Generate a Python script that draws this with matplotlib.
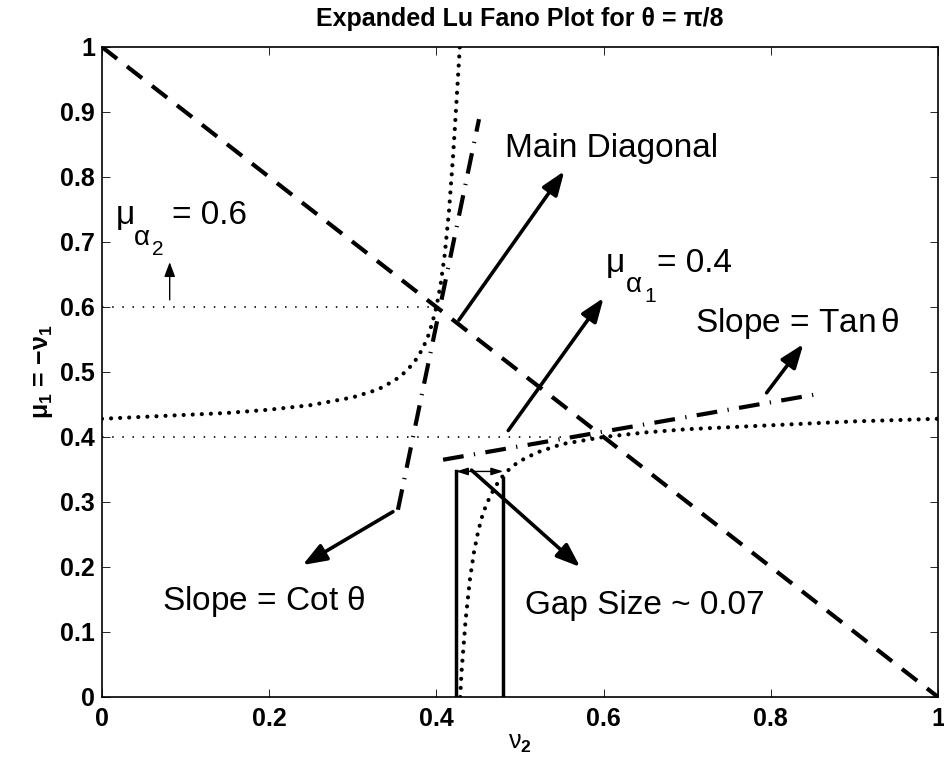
import matplotlib
matplotlib.use('Agg')
import matplotlib.pyplot as plt

plt.rcParams['font.family'] = ['Liberation Sans', 'DejaVu Sans']
plt.rcParams['mathtext.fontset'] = 'custom'
plt.rcParams['mathtext.rm'] = 'Liberation Sans'
plt.rcParams['mathtext.it'] = 'Liberation Sans:italic'
plt.rcParams['mathtext.bf'] = 'Liberation Sans:bold'
plt.rcParams['mathtext.default'] = 'regular'

# dotted curve, two branches (nu2, mu1)
left_x = [0, 0.05, 0.1, 0.15, 0.2, 0.25, 0.3, 0.33, 0.35, 0.36, 0.365, 0.37, 0.375,
          0.38, 0.385, 0.39, 0.395, 0.4, 0.405, 0.41, 0.415, 0.42, 0.422, 0.425, 0.427, 0.428]
left_y = [0.428, 0.431, 0.434, 0.437, 0.442, 0.449, 0.461, 0.473, 0.487, 0.497, 0.503, 0.510,
          0.518, 0.528, 0.540, 0.555, 0.575, 0.600, 0.634, 0.681, 0.746, 0.833, 0.873, 0.936,
          0.978, 1.0]
right_x = [0.4285, 0.43, 0.435, 0.44, 0.445, 0.45, 0.455, 0.46, 0.47, 0.48, 0.49, 0.5,
           0.52, 0.55, 0.6, 0.65, 0.7, 0.8, 0.9, 1.0]
right_y = [0.0, 0.037, 0.119, 0.180, 0.223, 0.255, 0.279, 0.297, 0.323, 0.341, 0.354, 0.363,
           0.376, 0.389, 0.4, 0.407, 0.412, 0.418, 0.424, 0.428]

diag_x = [0, 1]
diag_y = [1, 0]

mu_a1 = 0.4
mu_a2 = 0.6
mu_a1_end = 0.6
mu_a2_end = 0.41

cot_x = [0.354, 0.451]
cot_y = [0.288, 0.889]
tan_x = [0.408, 0.856]
tan_y = [0.365, 0.466]

gap_x = [0.4234, 0.48]
gap_top = [0.347, 0.337]

# annotation arrows: (tail, head)
arrows = {
    'main': ((0.427, 0.580), (0.553, 0.809)),
    'mua1': ((0.486, 0.410), (0.600, 0.614)),
    'tan': ((0.795, 0.468), (0.839, 0.543)),
    'cot': ((0.348, 0.285), (0.240, 0.203)),
    'gap': ((0.442, 0.349), (0.572, 0.200)),
}

fig = plt.figure(figsize=(9.45, 7.58), dpi=100)
ax = fig.add_axes([0.1079, 0.0805, 0.8847, 0.8575])

dot = dict(color='k', lw=3, dashes=(0.01, 2.17), dash_capstyle='round')
ax.plot(left_x, left_y, **dot)
ax.plot(right_x, right_y, **dot)

ax.plot(diag_x, diag_y, color='k', lw=3, dashes=(4.6, 3))

thin = dict(color='k', lw=1.2, dashes=(0.9, 5.2))
ax.plot([0, mu_a2_end], [mu_a2, mu_a2], **thin)
ax.plot([0, mu_a1_end], [mu_a1, mu_a1], **thin)

dd = dict(color='k', lw=3, dashes=(5, 2.5, 0.3, 2.5))
ax.plot(cot_x, cot_y, **dd)
ax.plot(tan_x, tan_y, **dd)

for x, top in zip(gap_x, gap_top):
    ax.plot([x, x], [0, top], color='k', lw=2.5)

ax.annotate('', xy=(gap_x[1], gap_top[0]), xytext=(gap_x[0], gap_top[0]),
            arrowprops=dict(arrowstyle='<|-|>,head_length=0.8,head_width=0.25',
                            mutation_scale=9, lw=1, color='k', shrinkA=0, shrinkB=0))

for tail, head in arrows.values():
    ax.annotate('', xy=head, xytext=tail,
                arrowprops=dict(arrowstyle='-|>,head_length=0.8,head_width=0.3',
                                mutation_scale=18, lw=2.6, color='k',
                                shrinkA=0, shrinkB=0))

ax.annotate('', xy=(0.081, 0.669), xytext=(0.081, 0.611),
            arrowprops=dict(arrowstyle='-|>,head_length=0.8,head_width=0.3',
                            mutation_scale=11, lw=1, color='k', shrinkA=0, shrinkB=0))

fs = 24


def pieces(x, y, parts):
    # parts: (text, dx px, dy px down, fontsize)
    for s, dx, dy, size in parts:
        ax.annotate(s, xy=(x, y), xytext=(dx * 0.72, -dy * 0.72),
                    textcoords='offset points', fontsize=size,
                    ha='left', va='baseline')


ax.text(0.482, 0.831, 'Main Diagonal', fontsize=fs, va='baseline')
pieces(0.016, 0.727, [('\u03bc', 0, 0, fs), ('\u03b1', 19, 21, 20),
                      ('2', 37, 31, 15), ('= 0.6', 57, 0, fs)])
pieces(0.602, 0.654, [('\u03bc', 0, 0, fs), ('\u03b1', 21, 20, 20),
                      ('1', 39, 30, 15), ('= 0.4', 52, 0, fs)])
ax.text(0.709, 0.5615, r'Slope = Tan$\,\theta$', fontsize=fs, va='baseline')
ax.text(0.072, 0.134, r'Slope = Cot $\theta$', fontsize=fs, va='baseline')
ax.text(0.506, 0.128, 'Gap Size ~ 0.07', fontsize=fs, va='baseline')

ax.set_xlim(0, 1)
ax.set_ylim(0, 1)
xt = [0, 0.2, 0.4, 0.6, 0.8, 1]
yt = [0, 0.1, 0.2, 0.3, 0.4, 0.5, 0.6, 0.7, 0.8, 0.9, 1]
ax.set_xticks(xt)
ax.set_xticklabels(['0', '0.2', '0.4', '0.6', '0.8', '1'])
ax.set_yticks(yt)
ax.set_yticklabels(['0', '0.1', '0.2', '0.3', '0.4', '0.5', '0.6', '0.7', '0.8', '0.9', '1'])
ax.tick_params(direction='in', length=6, width=0.6, top=True, right=True, labelsize=18)
ax.tick_params(axis='x', pad=7)
ax.tick_params(axis='y', pad=5)
for lab in ax.get_xticklabels() + ax.get_yticklabels():
    lab.set_fontweight('bold')
for sp in ax.spines.values():
    sp.set_linewidth(1.2)

ax.set_xlabel(r'$\nu_{\mathbf{2}}$', fontsize=18, labelpad=0)
ax.set_ylabel(r'$\mu_{\mathbf{1}}$ = $-\nu_{\mathbf{1}}$', fontsize=18, fontweight='bold', labelpad=4)
ax.set_title('Expanded Lu Fano Plot for \u03b8 = \u03c0/8', fontsize=18, fontweight='bold', pad=15)

fig.savefig('out.png', dpi=100)
